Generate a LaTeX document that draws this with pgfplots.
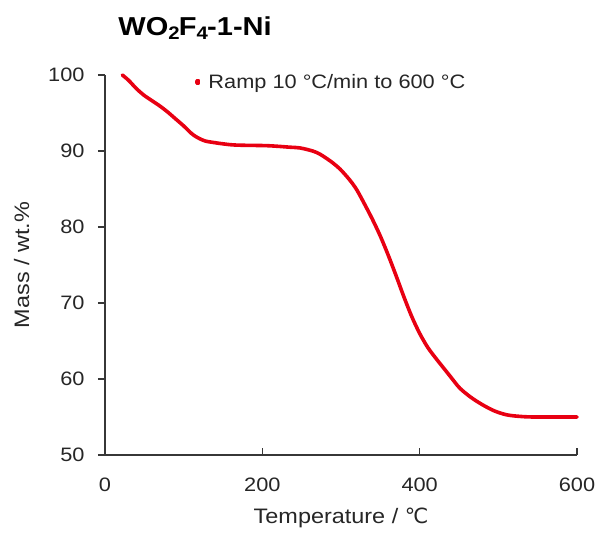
\documentclass[border=0pt]{standalone}
\usepackage{fontspec}
\setmainfont[FakeStretch=1.12]{Liberation Sans}
\newfontfamily\symfont{DejaVu Sans}
\usepackage{pgfplots}
\pgfplotsset{compat=1.18}
\definecolor{tgared}{RGB}{232,0,18}
\definecolor{axgray}{RGB}{55,55,55}

% TGA curve: temperature (deg C) vs. residual mass (wt.%)
\pgfplotstableread{
T    m
22   100.0
30   99.3
40   98.2
50   97.3
60   96.6
70   95.9
80   95.1
90   94.2
100  93.3
110  92.3
117  91.8
125  91.4
133  91.2
163  90.8
206  90.7
235  90.5
248  90.4
264  90.0
273  89.6
282  89.0
290  88.4
299  87.6
311  86.2
320  84.9
330  83.0
340  81.0
350  78.8
360  76.3
370  73.6
380  70.8
390  68.2
400  66.0
410  64.2
420  62.8
430  61.5
440  60.2
451  58.8
465  57.6
480  56.6
495  55.8
510  55.3
525  55.1
545  55.0
600  55.0
}\tgadata

\begin{document}
\begin{tikzpicture}
\begin{axis}[
  scale only axis,
  width=472bp, height=380bp,
  xmin=0, xmax=600, ymin=50, ymax=100,
  xtick={0,200,400,600}, ytick={50,60,...,100},
  axis x line*=bottom, axis y line*=left,
  axis line style={axgray, line width=1.3bp},
  every tick/.style={axgray, line width=1.1bp},
  major tick length=7bp,
  xtick align=inside, ytick align=outside,
  /pgf/number format/assume math mode=true,
  tick label style={font=\fontsize{19.5}{21}\selectfont, text=black!85},
  xticklabel style={yshift=-19bp},
  yticklabel style={xshift=-10bp},
  label style={font=\fontsize{21}{23}\selectfont, text=black!85},
  xlabel={Temperature / {\symfont ℃}},
  ylabel={Mass / wt.\%},
  xlabel style={yshift=-10bp},
  ylabel style={yshift=12bp},
  legend style={draw=none, fill=none, at={(0.19,0.982)}, anchor=west,
    font=\fontsize{19.5}{21}\selectfont, text=black!85, inner sep=0pt},
  legend image code/.code={\fill[tgared] (-0.1em,-0.1em) rectangle (0.1em,0.1em);},
  legend cell align=left,
  /tikz/every odd column/.append style={column sep=6bp},
  clip=false,
]
\addplot[tgared, line width=3.6bp, line join=round, line cap=round, smooth, tension=0.5] table[x=T, y=m] {\tgadata};
\addlegendentry{Ramp 10 °C/min to 600 °C}
\node[anchor=base west, inner sep=0pt, font=\bfseries\fontsize{26}{28}\selectfont]
  at (rel axis cs:0.028,1.105) {WO$_{\mathbf{2}}$F$_{\mathbf{4}}$-1-Ni};
\end{axis}
\pgfresetboundingbox
\path[use as bounding box] (-105bp,-78bp) rectangle (497bp,455bp);
\end{tikzpicture}
\end{document}
